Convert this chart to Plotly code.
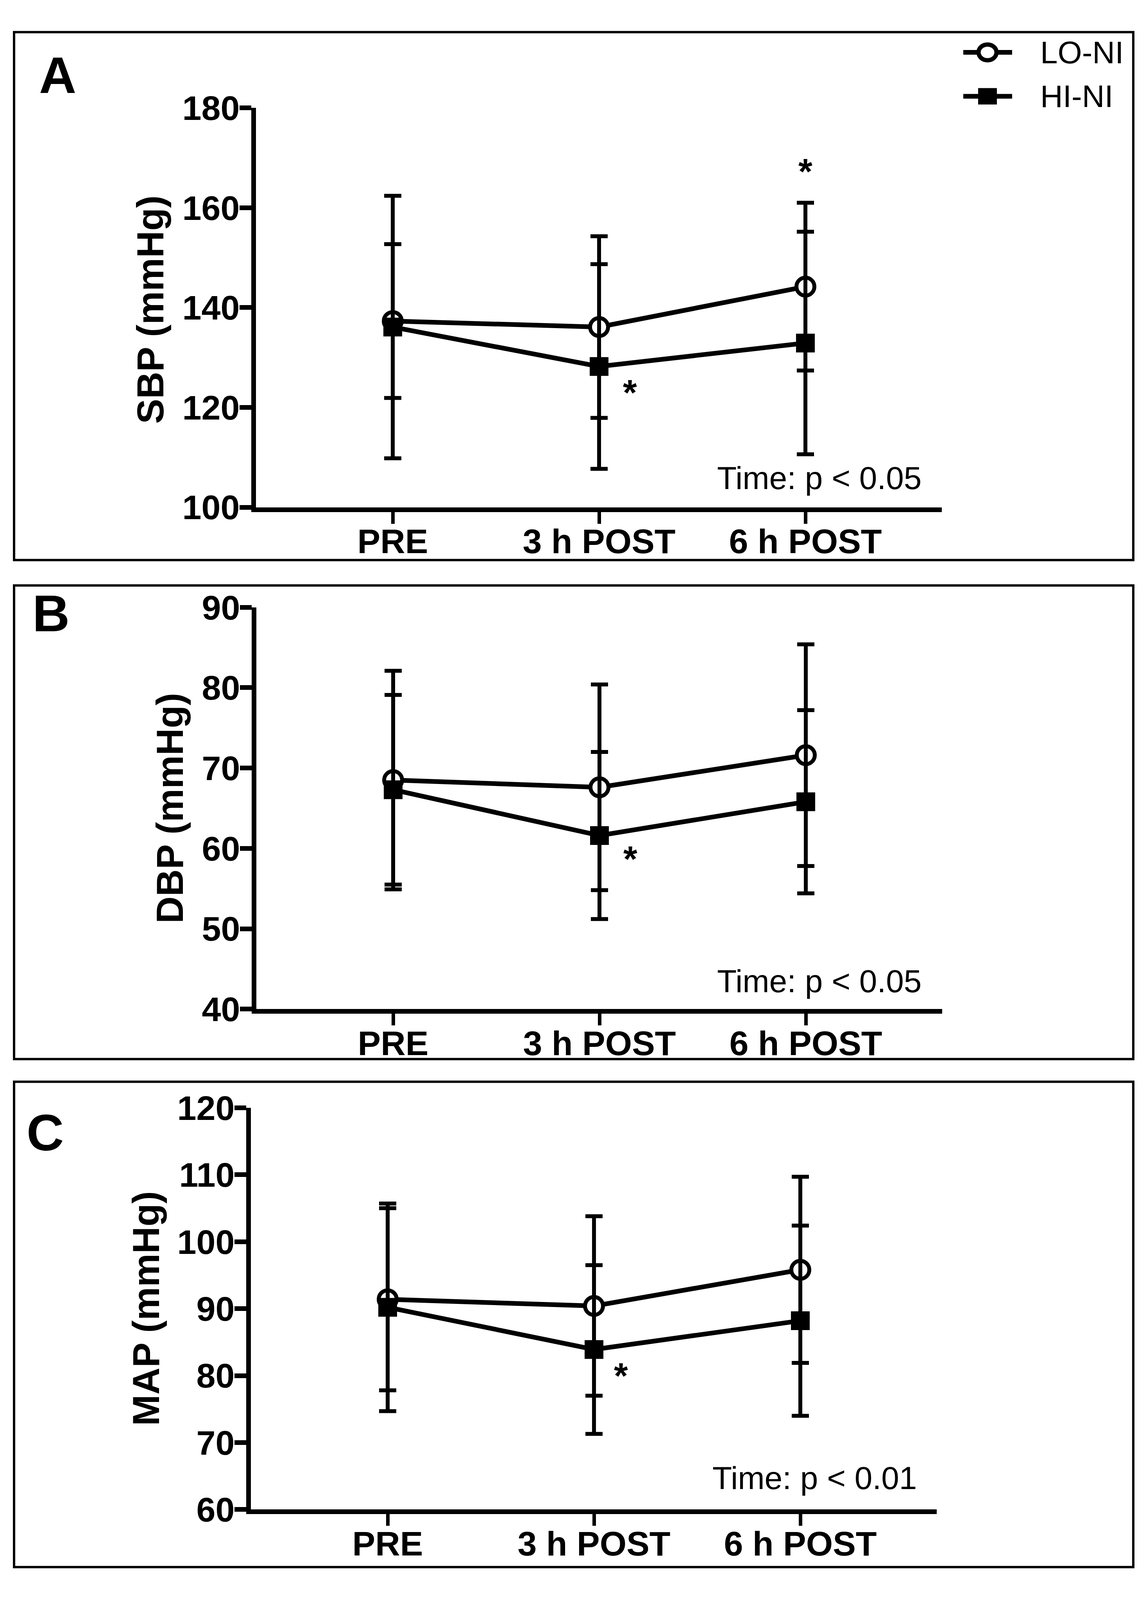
import plotly.graph_objects as go

W, H = 2930, 4555

categories = ["PRE", "3 h POST", "6 h POST"]
series_names = ["LO-NI", "HI-NI"]

sbp_lo = [137.3, 136.1, 144.2]
sbp_lo_sd = [15.4, 18.2, 16.8]
sbp_hi = [136.1, 128.2, 132.9]
sbp_hi_sd = [26.3, 20.5, 22.3]

dbp_lo = [68.5, 67.6, 71.6]
dbp_lo_sd = [13.6, 12.8, 13.8]
dbp_hi = [67.3, 61.6, 65.8]
dbp_hi_sd = [11.8, 10.4, 11.4]

map_lo = [91.4, 90.4, 95.8]
map_lo_sd = [13.6, 13.4, 13.9]
map_hi = [90.2, 83.9, 88.2]
map_hi_sd = [15.5, 12.6, 14.2]

y_titles = ["SBP (mmHg)", "DBP (mmHg)", "MAP (mmHg)"]
panel_letters = ["A", "B", "C"]
stats_text = ["Time: p < 0.05", "Time: p < 0.05", "Time: p < 0.01"]
y_ranges = [[100, 180], [40, 90], [60, 120]]
y_dticks = [20, 10, 10]
# asterisk positions (category index, value)
stars = [[(2.0, 167.3), (1.15, 123.0)], [(1.15, 58.7)], [(1.13, 80.0)]]

FONT = "Arial, Liberation Sans, sans-serif"

# panel geometry in reference pixels (converted to paper fractions)
panels = [
    dict(box=(36, 38, 2900, 1578), x0=655, x1=2410, yt=259, yb=1424,
         letter=(147, 163), ytitle=(384, 848), stat=(2360, 1339)),
    dict(box=(36, 1652, 2900, 3034), x0=656, x1=2411, yt=1716, yb=2888,
         letter=(130, 1734), ytitle=(435, 2302), stat=(2360, 2806)),
    dict(box=(36, 3100, 2900, 4516), x0=642, x1=2397, yt=3176, yb=4348,
         letter=(115, 3248), ytitle=(373, 3762), stat=(2348, 4256)),
]

def px(x):
    return x / W

def py(y):
    return 1 - y / H

data_sets = [
    (sbp_lo, sbp_lo_sd, sbp_hi, sbp_hi_sd),
    (dbp_lo, dbp_lo_sd, dbp_hi, dbp_hi_sd),
    (map_lo, map_lo_sd, map_hi, map_hi_sd),
]

fig = go.Figure()
annotations = []
shapes = []

for i, (p, ds) in enumerate(zip(panels, data_sets)):
    n = "" if i == 0 else str(i + 1)
    xa, ya = "x" + n, "y" + n
    lo, lo_sd, hi, hi_sd = ds
    fig.add_trace(go.Scatter(
        x=categories, y=lo, name=series_names[0], xaxis=xa, yaxis=ya,
        mode="lines+markers", showlegend=False,
        line=dict(color="black", width=12),
        marker=dict(symbol="circle", size=46, color="white",
                    line=dict(color="black", width=10)),
        error_y=dict(type="data", array=lo_sd, visible=True,
                     color="black", thickness=10, width=22),
    ))
    fig.add_trace(go.Scatter(
        x=categories, y=hi, name=series_names[1], xaxis=xa, yaxis=ya,
        mode="lines+markers", showlegend=False,
        line=dict(color="black", width=12),
        marker=dict(symbol="square", size=48, color="black",
                    line=dict(color="black", width=0)),
        error_y=dict(type="data", array=hi_sd, visible=True,
                     color="black", thickness=10, width=22),
    ))
    xkey = "xaxis" + n
    ykey = "yaxis" + n
    fig.layout[xkey] = dict(
        domain=[px(p["x0"]), px(p["x1"])], anchor=ya,
        type="category", categoryorder="array", categoryarray=categories,
        range=[-0.663, 2.661], showline=True, linewidth=12, linecolor="black",
        ticks="outside", ticklen=30, tickwidth=9, tickcolor="black",
        ticklabelstandoff=-30,
        showgrid=False, zeroline=False,
        tickfont=dict(family=FONT, size=88, color="black", weight="bold"),
    )
    fig.layout[ykey] = dict(
        domain=[py(p["yb"]), py(p["yt"])], anchor=xa,
        range=y_ranges[i], dtick=y_dticks[i], tick0=y_ranges[i][0],
        showline=True, linewidth=12, linecolor="black",
        ticks="outside", ticklen=30, tickwidth=12, tickcolor="black",
        ticklabelstandoff=-18,
        showgrid=False, zeroline=False,
        tickfont=dict(family=FONT, size=88, color="black", weight="bold"),
    )
    bx0, by0, bx1, by1 = p["box"]
    shapes.append(dict(type="rect", xref="paper", yref="paper",
                       x0=px(bx0), x1=px(bx1), y0=py(by1), y1=py(by0),
                       line=dict(color="black", width=6)))
    annotations.append(dict(text=panel_letters[i], xref="paper", yref="paper",
                            x=px(p["letter"][0]), y=py(p["letter"][1]),
                            xanchor="center", yanchor="middle", showarrow=False,
                            font=dict(family=FONT, size=132, color="black", weight="bold")))
    annotations.append(dict(text=y_titles[i], xref="paper", yref="paper",
                            x=px(p["ytitle"][0]), y=py(p["ytitle"][1]),
                            xanchor="center", yanchor="middle", showarrow=False, textangle=-90,
                            font=dict(family=FONT, size=96, color="black", weight="bold")))
    annotations.append(dict(text=stats_text[i], xref="paper", yref="paper",
                            x=px(p["stat"][0]), y=py(p["stat"][1]),
                            xanchor="right", yanchor="middle", showarrow=False,
                            font=dict(family=FONT, size=82, color="black")))
    for sx, sy in stars[i]:
        annotations.append(dict(text="*", xref=xa, yref=ya, x=sx, y=sy,
                                xanchor="center", yanchor="middle", showarrow=False,
                                font=dict(family=FONT, size=92, color="black", weight="bold")))

# legend glyphs (decoration in panel A)
leg_items = [("circle", 97), ("square", 225)]
for (sym, ly), name in zip(leg_items, series_names):
    shapes.append(dict(type="line", xref="paper", yref="paper",
                       x0=px(2465), x1=px(2590), y0=py(ly), y1=py(ly),
                       line=dict(color="black", width=12)))
    if sym == "circle":
        shapes.append(dict(type="circle", xref="paper", yref="paper",
                           x0=px(2527 - 23), x1=px(2527 + 23), y0=py(ly + 23), y1=py(ly - 23),
                           fillcolor="white", line=dict(color="black", width=11)))
    else:
        shapes.append(dict(type="rect", xref="paper", yref="paper",
                           x0=px(2527 - 24), x1=px(2527 + 24), y0=py(ly + 24), y1=py(ly - 24),
                           fillcolor="black", line=dict(color="black", width=0)))
    annotations.append(dict(text=name, xref="paper", yref="paper",
                            x=px(2660), y=py(ly), xanchor="left", yanchor="middle",
                            showarrow=False, font=dict(family=FONT, size=80, color="black")))

fig.update_layout(
    width=W, height=H, margin=dict(l=0, r=0, t=0, b=0),
    paper_bgcolor="white", plot_bgcolor="white",
    showlegend=False, shapes=shapes, annotations=annotations,
    font=dict(family=FONT, color="black"),
)

# fit the figure to the visible browser area so nothing is cut off
fit_js = """
document.body.style.margin = '0';
document.body.style.overflow = 'hidden';
var gd = document.getElementById('{plot_id}');
var vw = window.innerWidth, vh = window.innerHeight;
if (vw > 0 && vh > 0 && (vw !== %d || vh !== %d)) {
    Plotly.relayout(gd, {width: vw, height: vh});
}
""" % (W, H)

fig.write_html("out.html", post_script=fit_js,
               config={"displayModeBar": False, "staticPlot": True})
